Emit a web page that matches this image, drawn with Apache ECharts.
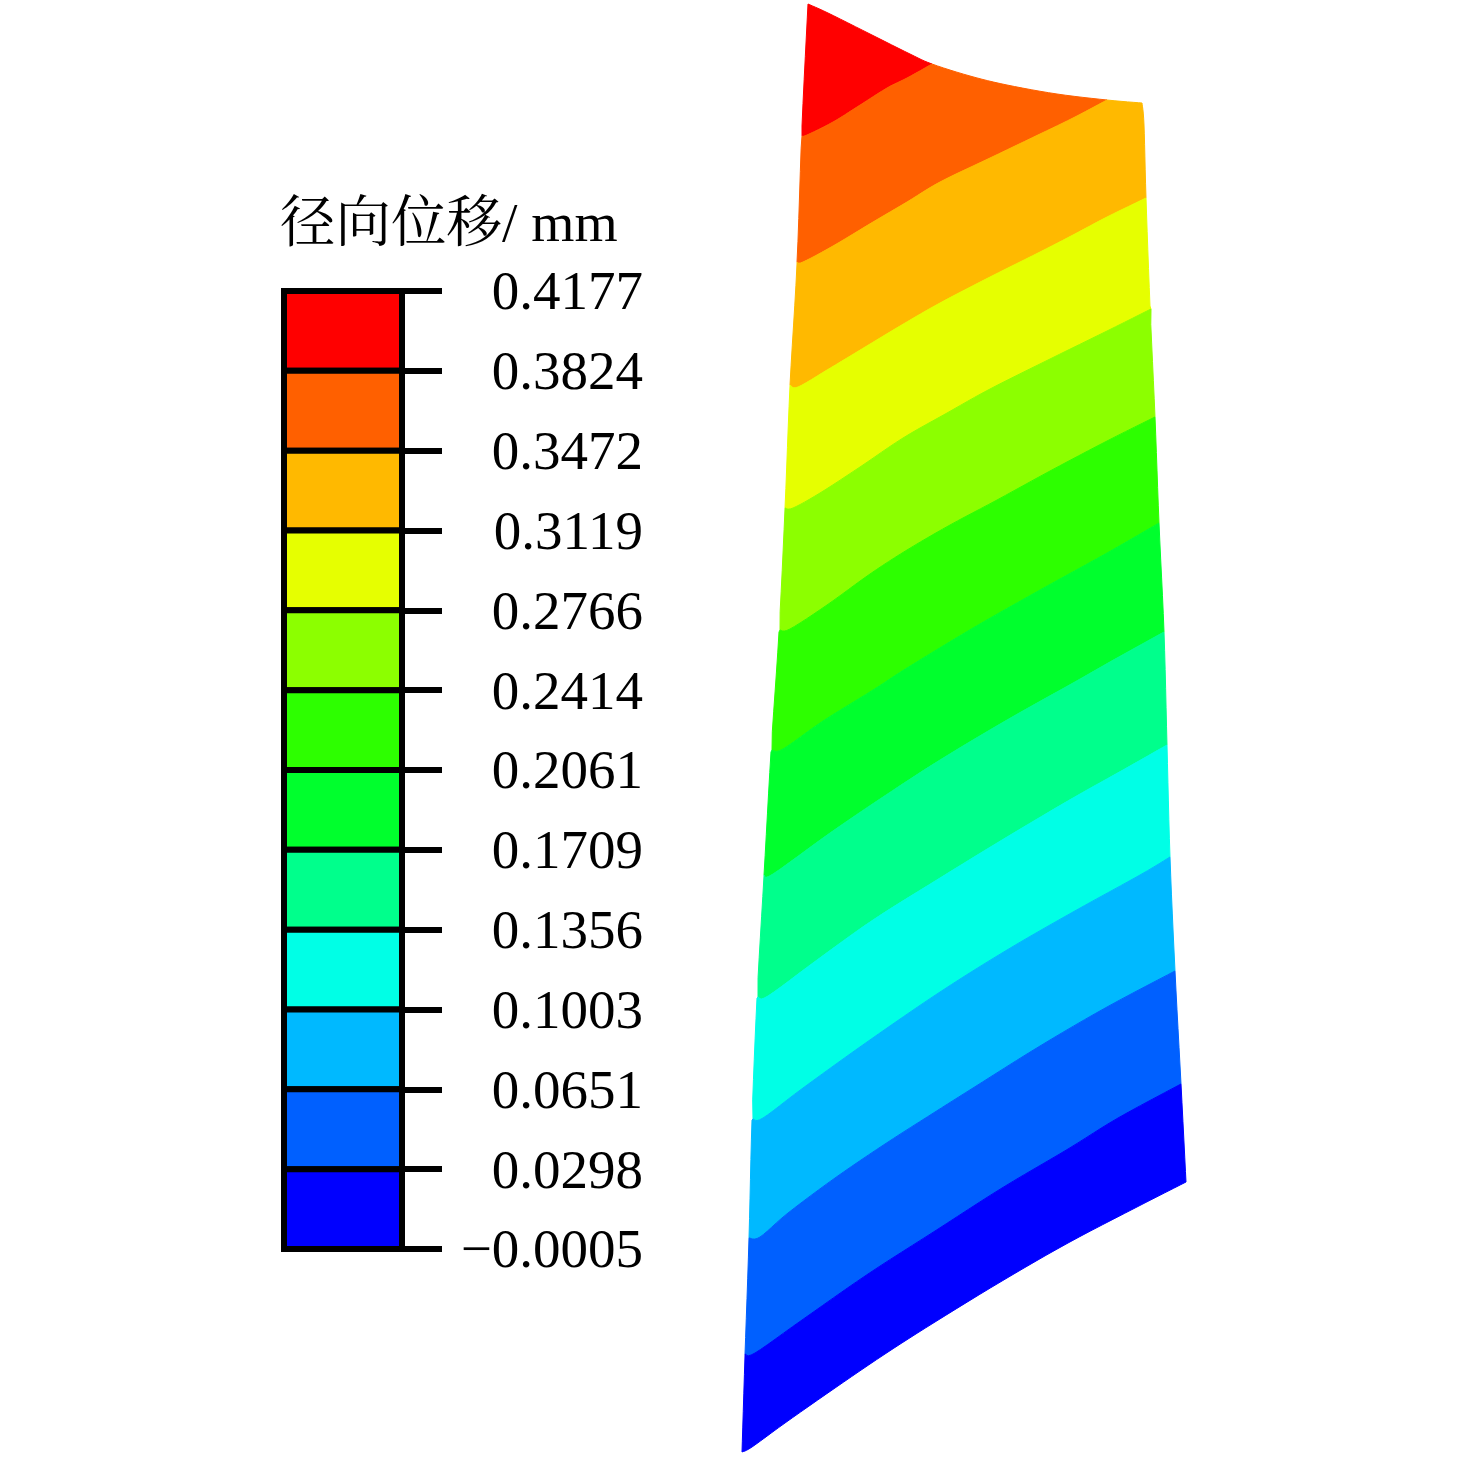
<!DOCTYPE html>
<html>
<head>
<meta charset="utf-8">
<style>html,body{margin:0;padding:0;background:#fff}#c{width:1476px;height:1460px}</style>
<script src="https://cdn.jsdelivr.net/npm/echarts@6/dist/echarts.min.js"></script>
</head>
<body>
<div id="c"></div>
<script>
const titleText = '径向位移/ mm';
const tickLabels = ['0.4177','0.3824','0.3472','0.3119','0.2766','0.2414','0.2061','0.1709','0.1356','0.1003','0.0651','0.0298','\u22120.0005'];
const bandColors = ['#ff0000','#ff6000','#ffb900','#e6ff00','#8cff00','#2dff00','#00ff2d','#00ff8c','#00ffe6','#00b9ff','#0060ff','#0000ff'];

// Blade outline
const leftEdge = [[808,4],[802,126],[797,264],[790,386],[785,509],[779,632],[771,752],[764,876],[757,998],[752,1120],[749,1238],[745,1356],[742,1452]];
const topEdge = [[808,4],[828,13],[870,34],[910,54],[932,64],[970,76],[1007,85],[1057,94],[1107,100],[1142,103]];
const rightEdge = [[1142,103],[1144,125],[1146,198],[1150,306],[1155,417],[1159,523],[1164,632],[1167,745],[1170,857],[1175,971],[1181,1084],[1186,1182]];
const bottomEdge = [[742,1452],[752,1447],[785,1423],[835,1388],[885,1354],[935,1322],[1002,1281],[1068,1243],[1135,1208],[1186,1182]];

// Contour lines between bands, left to right
const contour1 = [[802,136],[807,135],[833,122],[857,107],[887,88],[907,78],[932,64]];
const contour2 = [[797,262],[803,262],[833,246],[873,222],[907,202],[940,182],[990,158],[1040,134],[1073,118],[1107,100]];
const contour3 = [[790,385],[798,387],[827,370],[847,358],[900,326],[940,303],[990,277],[1040,252],[1073,235],[1107,217],[1146,198]];
const contour4 = [[785,508],[793,508],[820,493],[860,467],[903,438],[947,413],[990,389],[1050,359],[1107,331],[1151,309]];
const contour5 = [[780,630],[790,629],[827,605],[870,574],[907,550],[950,525],[997,500],[1050,471],[1107,441],[1155,417]];
const contour6 = [[772,750],[783,749],[823,721],[873,690],[907,668],[973,628],[1040,590],[1107,553],[1159,523]];
const contour7 = [[764,875],[773,874],[830,833],[883,797],[940,760],[1007,720],[1073,683],[1117,658],[1164,632]];
const contour8 = [[758,997],[768,996],[817,960],[873,920],[940,878],[1007,837],[1073,798],[1123,770],[1167,745]];
const contour9 = [[753,1119],[763,1118],[803,1088],[867,1042],[940,992],[1007,950],[1073,912],[1140,875],[1170,857]];
const contour10 = [[749,1238],[760,1237],[788,1213],[835,1178],[885,1144],[935,1112],[973,1088],[1040,1046],[1107,1007],[1175,971]];
const contour11 = [[745,1354],[755,1353],[802,1320],[868,1274],[935,1231],[1002,1188],[1068,1149],[1118,1118],[1181,1084]];

const contours = [contour1,contour2,contour3,contour4,contour5,contour6,contour7,contour8,contour9,contour10,contour11];

// Drawing only: rounds a read polyline the way a line series' smooth option would
function rounded(line){
  const out = [];
  for(let i=0;i<line.length-1;i++){
    const p0=line[Math.max(i-1,0)],p1=line[i],p2=line[i+1],p3=line[Math.min(i+2,line.length-1)];
    for(let s=0;s<6;s++){
      const t=s/6,t2=t*t,t3=t2*t;
      out.push([0,1].map(d=>0.5*(2*p1[d]+(p2[d]-p0[d])*t+(2*p0[d]-5*p1[d]+4*p2[d]-p3[d])*t2+(3*p1[d]-p0[d]-3*p2[d]+p3[d])*t3)));
    }
  }
  out.push(line[line.length-1]);
  return out;
}
const roundedContours = contours.map(rounded);
const roundedBottom = rounded(bottomEdge);
const roundedLeft = rounded(leftEdge);
const roundedRight = rounded(topEdge).concat(rounded(rightEdge));

function bandOutline(k){
  const upper = k === 0 ? [topEdge[0]] : roundedContours[k-1];
  const lower = k === contours.length ? roundedBottom : roundedContours[k];
  const ue = upper[upper.length-1], le = lower[lower.length-1];
  const right = roundedRight.filter(p => p[1] > ue[1] && p[1] < le[1]);
  const left = roundedLeft.filter(p => p[1] > upper[0][1] && p[1] < lower[0][1]).reverse();
  return upper.concat(right, lower.slice().reverse(), left);
}

const SERIF = '"Liberation Serif","Times New Roman","Noto Serif CJK SC","Noto Sans CJK SC",serif';
const chart = echarts.init(document.getElementById('c'), null, {renderer:'canvas'});
chart.setOption({
  animation:false,
  backgroundColor:'#fff',
  title:{
    text:titleText, left:275, top:188,
    textStyle:{fontFamily:SERIF,fontSize:55.5,fontWeight:'normal',color:'#000',lineHeight:66}
  },
  grid:[
    {left:0,top:0,width:1476,height:1460,outerBoundsMode:'none'},
    {left:284,top:291,width:118,height:958,outerBoundsMode:'none'}
  ],
  xAxis:[
    {gridIndex:0,type:'value',min:0,max:1476,show:false},
    {gridIndex:1,type:'value',min:0,max:1,show:false}
  ],
  yAxis:[
    {gridIndex:0,type:'value',min:0,max:1460,inverse:true,show:false},
    {gridIndex:1,type:'category',data:tickLabels,inverse:true,boundaryGap:false,position:'right',
     axisLine:{show:true,onZero:false,lineStyle:{color:'#000',width:6}},
     axisTick:{show:true,alignWithLabel:true,interval:0,inside:false,length:40,lineStyle:{color:'#000',width:6}},
     axisLabel:{show:true,interval:0,align:'right',margin:241,color:'#000',fontFamily:SERIF,fontSize:55,
                verticalAlign:'top',lineHeight:8,hideOverlap:false,showMinLabel:true,showMaxLabel:true},
     splitLine:{show:false}}
  ],
  series:[
    {
      type:'custom',coordinateSystem:'cartesian2d',xAxisIndex:0,yAxisIndex:0,clip:false,silent:true,
      data:bandColors.map((c,i)=>[i]),
      encode:{x:0,y:0},
      renderItem:function(params,api){
        const k = params.dataIndex;
        const pts = bandOutline(k).map(p=>api.coord(p));
        return {type:'polygon',shape:{points:pts},
                style:{fill:bandColors[k],stroke:bandColors[k],lineWidth:1}};
      }
    },
    {
      type:'custom',coordinateSystem:'cartesian2d',xAxisIndex:1,yAxisIndex:1,clip:false,silent:true,z:5,
      data:bandColors.map((c,i)=>[0,i]),
      encode:{x:0,y:1},
      renderItem:function(params,api){
        const k = params.dataIndex;
        const a = api.coord([0,k]), b = api.coord([1,k+1]);
        return {type:'rect',shape:{x:a[0],y:a[1],width:b[0]-a[0],height:b[1]-a[1]},
                style:{fill:bandColors[k],stroke:'#000',lineWidth:6}};
      }
    }
  ]
});
</script>
</body>
</html>
